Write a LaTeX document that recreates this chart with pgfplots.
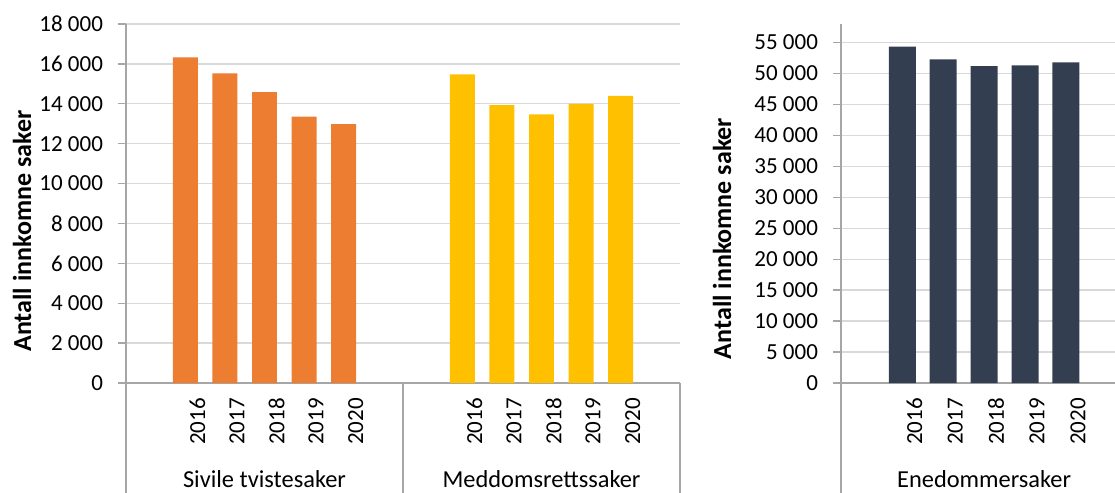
\documentclass[border=0pt]{standalone}
\usepackage{fontspec}
\setmainfont{Carlito}
\usepackage{pgfplots}
\pgfplotsset{compat=1.18}
\definecolor{barorange}{HTML}{ED7D31}
\definecolor{baryellow}{HTML}{FFC000}
\definecolor{barnavy}{HTML}{333F50}
\definecolor{axisgray}{HTML}{A6A6A6}
\definecolor{gridgray}{HTML}{D9D9D9}

\tikzset{catlabel/.style={anchor=base,yshift=-52pt,font=\fontsize{12.2}{14}\selectfont}}

\pgfplotsset{
  casestyle/.style={
    scale only axis, height=179.5pt,
    font=\fontsize{11.5}{13}\selectfont,
    ybar, bar shift=0pt,
    ymin=0,
    axis x line*=bottom, axis y line*=left,
    axis line style={axisgray,-,line width=0.7pt},
    ymajorgrids, grid style={gridgray,line width=0.7pt},
    tick align=outside, major tick length=4pt,
    ytick style={axisgray,line width=0.7pt},
    xtick style={draw=none},
    xticklabel style={rotate=90,anchor=east,yshift=-6pt},
    yticklabel style={xshift=-4pt},
    /pgf/number format/1000 sep={\ },
    /pgf/number format/assume math mode=true,
    scaled y ticks=false,
    ylabel={Antall innkomne saker},
    clip=false,
  },
}

\begin{document}
\begin{tikzpicture}
\useasboundingbox (-63pt,-55pt) rectangle (494.5pt,191.5pt);

% left panel: two groups of 7 slots each
\begin{axis}[casestyle,
  width=277pt,
  xmin=-0.5, xmax=13.5,
  ymax=18000, ytick={0,2000,...,18000},
  xtick={1,2,3,4,5,8,9,10,11,12},
  xticklabels={2016,2017,2018,2019,2020,2016,2017,2018,2019,2020},
  bar width=0.63,
  ylabel style={font=\fontsize{13}{15}\selectfont\bfseries,
    at={(axis description cs:-0.1877,0.423)},anchor=center},
]
\addplot[fill=barorange,draw=none] coordinates {
  (1,16330) (2,15530) (3,14580) (4,13350) (5,12980)};
\addplot[fill=baryellow,draw=none] coordinates {
  (8,15470) (9,13930) (10,13470) (11,14000) (12,14400)};
\draw[axisgray,line width=0.7pt] (axis cs:-0.5,0) -- ++(0pt,-55pt);
\draw[axisgray,line width=0.7pt] (axis cs:6.5,0) -- ++(0pt,-55pt);
\draw[axisgray,line width=0.7pt] (axis cs:13.5,0) -- ++(0pt,-55pt);
\node[catlabel] at (axis cs:3,0) {Sivile tvistesaker};
\node[catlabel] at (axis cs:10,0) {Meddomsrettssaker};
\end{axis}

% right panel
\begin{axis}[casestyle,
  at={(357.5pt,0)},
  width=137pt,
  xmin=-0.5, xmax=6.2,
  ymax=58000, ytick={0,5000,...,55000},
  xtick={1,2,3,4,5},
  xticklabels={2016,2017,2018,2019,2020},
  bar width=0.66,
  ylabel style={font=\fontsize{13}{15}\selectfont\bfseries,
    at={(axis description cs:-0.434,0.4025)},anchor=center},
]
\addplot[fill=barnavy,draw=none] coordinates {
  (1,54350) (2,52300) (3,51200) (4,51300) (5,51800)};
\draw[axisgray,line width=0.7pt] (axis cs:-0.5,0) -- ++(0pt,-55pt);
\node[catlabel] at (axis cs:3,0) {Enedommersaker};
\end{axis}
\end{tikzpicture}
\end{document}
